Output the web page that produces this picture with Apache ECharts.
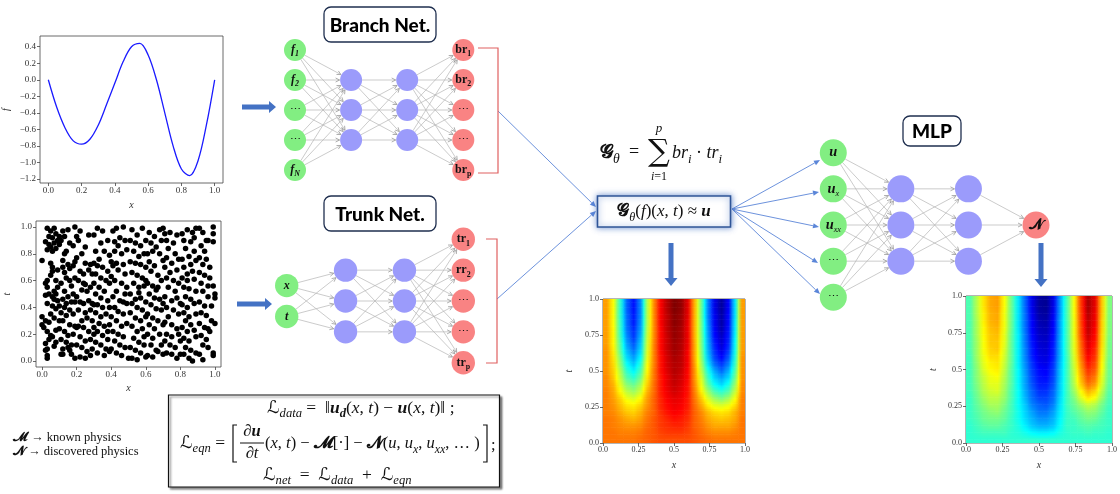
<!DOCTYPE html>
<html>
<head>
<meta charset="utf-8">
<script src="https://cdn.jsdelivr.net/npm/echarts@6/dist/echarts.min.js"></script>
<style>
html,body{margin:0;padding:0;background:#fff}
#c{width:1120px;height:494px}
</style>
</head>
<body>
<div id="c"></div>
<script>
// ---------- input function f(x) ----------
const fX = [0,0.05,0.1,0.15,0.2,0.25,0.3,0.35,0.4,0.45,0.5,0.55,0.6,0.65,0.7,0.75,0.8,0.85,0.9,0.95,1.0];
const fVal = [0,-0.33,-0.58,-0.74,-0.78,-0.72,-0.55,-0.30,-0.04,0.22,0.40,0.44,0.30,0.00,-0.40,-0.80,-1.08,-1.16,-0.98,-0.55,0];

// ---------- collocation points (x, t) ----------
const collocation = [
[0.03,0.99],[0.05,0.97],[0.07,0.99],[0.04,0.93],[0.06,0.92],[0.08,0.95],[0.02,0.89],[0.04,0.87],[0.05,0.85],[0.07,0.88],[0.09,0.9],[0.03,0.83],[0.06,0.82],[0.08,0.84],[0.1,0.87],[0.1,0.93],[0.0,0.75],
[0.06,0.67],[0.05,0.64],[0.03,0.6],[0.02,0.58],[0.03,0.55],[0.07,0.52],[0.08,0.5],[0.06,0.48],[0.07,0.46],[0.09,0.45],[0.03,0.43],[0.06,0.41],[0.08,0.39],[0.1,0.41],[0.0,0.33],[0.0,0.27],[0.02,0.3],[0.04,0.29],[0.01,0.25],[0.05,0.35],[0.07,0.32],[0.03,0.22],[0.05,0.19],[0.08,0.23],[0.1,0.24],[0.04,0.16],[0.02,0.13],[0.03,0.09],[0.06,0.18],[0.07,0.11],[0.03,0.04],[0.03,0.02],[0.08,0.14],[0.02,0.08],[0.09,0.68],[0.06,0.7],[0.08,0.6],[0.05,0.73],[0.09,0.55],[0.02,0.49],[0.04,0.5],[0.1,0.3],
[0.12,0.97],[0.15,0.98],[0.13,0.93],[0.11,0.9],[0.16,0.88],[0.19,1.0],[0.14,0.82],[0.12,0.75],[0.13,0.8],[0.18,0.86],[0.2,0.77],[0.19,0.74],[0.12,0.7],[0.15,0.72],[0.13,0.66],[0.16,0.69],[0.18,0.71],[0.14,0.62],[0.16,0.6],[0.19,0.62],[0.11,0.58],[0.17,0.56],[0.13,0.52],[0.18,0.5],[0.15,0.48],[0.12,0.46],[0.14,0.43],[0.17,0.44],[0.19,0.44],[0.13,0.4],[0.16,0.38],[0.11,0.36],[0.14,0.34],[0.18,0.35],[0.12,0.3],[0.16,0.27],[0.19,0.26],[0.2,0.25],[0.13,0.22],[0.15,0.19],[0.18,0.2],[0.11,0.16],[0.14,0.14],[0.17,0.12],[0.12,0.09],[0.15,0.1],[0.11,0.05],[0.12,0.05],[0.17,0.05],[0.19,0.02],[0.2,0.12],[0.16,0.08],[0.2,0.48],
[0.22,0.97],[0.2,0.93],[0.25,0.85],[0.27,0.94],[0.3,0.94],[0.21,0.9],[0.23,0.8],[0.25,0.73],[0.28,0.72],[0.3,0.73],[0.27,0.68],[0.22,0.67],[0.24,0.65],[0.29,0.65],[0.21,0.6],[0.25,0.57],[0.28,0.55],[0.23,0.53],[0.26,0.52],[0.3,0.58],[0.22,0.44],[0.24,0.43],[0.27,0.45],[0.29,0.43],[0.21,0.38],[0.25,0.36],[0.28,0.38],[0.23,0.3],[0.26,0.32],[0.29,0.3],[0.21,0.26],[0.24,0.25],[0.27,0.22],[0.3,0.25],[0.22,0.18],[0.25,0.15],[0.28,0.16],[0.23,0.1],[0.26,0.07],[0.28,0.04],[0.22,0.03],[0.25,0.02],[0.29,0.09],[0.3,0.2],[0.24,0.58],
[0.32,0.99],[0.35,0.97],[0.38,0.9],[0.34,0.88],[0.31,0.82],[0.36,0.82],[0.33,0.76],[0.39,0.79],[0.32,0.71],[0.35,0.7],[0.38,0.67],[0.31,0.65],[0.34,0.62],[0.37,0.6],[0.39,0.58],[0.33,0.55],[0.36,0.52],[0.31,0.5],[0.34,0.47],[0.38,0.45],[0.32,0.42],[0.35,0.4],[0.39,0.4],[0.31,0.36],[0.34,0.33],[0.37,0.35],[0.33,0.28],[0.36,0.26],[0.39,0.27],[0.32,0.22],[0.35,0.19],[0.38,0.16],[0.31,0.14],[0.34,0.12],[0.37,0.09],[0.32,0.06],[0.36,0.04],[0.39,0.07],[0.3,0.42],[0.38,0.22],
[0.41,0.97],[0.43,0.99],[0.47,1.0],[0.45,0.92],[0.42,0.89],[0.44,0.86],[0.48,0.9],[0.42,0.82],[0.46,0.8],[0.49,0.83],[0.4,0.74],[0.43,0.73],[0.41,0.71],[0.47,0.72],[0.44,0.68],[0.48,0.65],[0.4,0.63],[0.42,0.6],[0.46,0.58],[0.49,0.55],[0.43,0.52],[0.41,0.48],[0.45,0.45],[0.47,0.44],[0.49,0.43],[0.42,0.4],[0.44,0.37],[0.47,0.35],[0.4,0.33],[0.43,0.3],[0.46,0.26],[0.49,0.28],[0.41,0.22],[0.44,0.2],[0.47,0.18],[0.42,0.15],[0.45,0.12],[0.48,0.1],[0.43,0.06],[0.46,0.04],[0.5,0.02],[0.4,0.09],[0.48,0.5],
[0.52,0.98],[0.55,0.94],[0.58,0.99],[0.51,0.9],[0.54,0.88],[0.57,0.86],[0.6,0.9],[0.53,0.82],[0.56,0.78],[0.59,0.8],[0.51,0.74],[0.54,0.73],[0.57,0.72],[0.6,0.7],[0.52,0.66],[0.55,0.64],[0.58,0.62],[0.6,0.6],[0.53,0.58],[0.56,0.55],[0.59,0.56],[0.51,0.5],[0.54,0.46],[0.57,0.47],[0.6,0.44],[0.52,0.43],[0.55,0.4],[0.58,0.38],[0.51,0.36],[0.54,0.32],[0.57,0.3],[0.6,0.33],[0.52,0.26],[0.55,0.22],[0.58,0.24],[0.53,0.17],[0.56,0.14],[0.59,0.18],[0.51,0.1],[0.54,0.08],[0.57,0.06],[0.6,0.03],[0.52,0.02],[0.55,0.01],[0.59,0.12],[0.56,0.51],
[0.62,0.96],[0.65,0.93],[0.68,0.98],[0.7,0.99],[0.63,0.88],[0.66,0.85],[0.69,0.9],[0.61,0.8],[0.64,0.82],[0.68,0.8],[0.62,0.74],[0.65,0.71],[0.7,0.75],[0.63,0.67],[0.67,0.64],[0.69,0.6],[0.61,0.58],[0.64,0.56],[0.66,0.53],[0.62,0.5],[0.65,0.47],[0.68,0.46],[0.7,0.43],[0.63,0.42],[0.66,0.39],[0.69,0.38],[0.61,0.35],[0.64,0.32],[0.67,0.3],[0.62,0.27],[0.65,0.24],[0.7,0.27],[0.61,0.2],[0.64,0.17],[0.68,0.2],[0.63,0.12],[0.66,0.08],[0.69,0.12],[0.61,0.04],[0.64,0.03],[0.67,0.07],[0.7,0.05],[0.67,0.55],
[0.71,0.95],[0.72,0.9],[0.74,0.96],[0.76,0.88],[0.78,0.94],[0.73,0.84],[0.77,0.8],[0.72,0.77],[0.75,0.73],[0.79,0.76],[0.71,0.7],[0.74,0.66],[0.78,0.68],[0.72,0.62],[0.76,0.6],[0.79,0.58],[0.73,0.55],[0.77,0.52],[0.71,0.48],[0.75,0.45],[0.78,0.47],[0.72,0.4],[0.76,0.38],[0.79,0.35],[0.73,0.33],[0.71,0.29],[0.75,0.27],[0.78,0.24],[0.72,0.2],[0.75,0.18],[0.79,0.2],[0.71,0.15],[0.74,0.12],[0.77,0.1],[0.72,0.06],[0.75,0.05],[0.78,0.02],[0.8,0.05],[0.8,0.15],[0.8,0.43],
[0.81,0.95],[0.84,0.98],[0.87,0.96],[0.89,0.99],[0.82,0.9],[0.86,0.89],[0.88,0.92],[0.83,0.84],[0.85,0.78],[0.81,0.76],[0.88,0.82],[0.82,0.7],[0.86,0.72],[0.89,0.75],[0.84,0.65],[0.87,0.67],[0.81,0.62],[0.84,0.6],[0.88,0.61],[0.82,0.55],[0.85,0.54],[0.89,0.52],[0.83,0.48],[0.86,0.46],[0.81,0.42],[0.84,0.4],[0.88,0.43],[0.82,0.36],[0.85,0.33],[0.89,0.35],[0.83,0.3],[0.86,0.27],[0.81,0.25],[0.84,0.22],[0.88,0.23],[0.82,0.17],[0.85,0.15],[0.89,0.18],[0.83,0.1],[0.86,0.08],[0.82,0.05],[0.85,0.02],[0.87,0.0],[0.89,0.06],
[0.91,0.99],[0.93,0.96],[0.95,0.9],[0.96,0.9],[0.99,1.0],[0.99,0.95],[0.99,0.89],[0.92,0.86],[0.94,0.82],[0.91,0.77],[0.95,0.76],[0.93,0.72],[0.97,0.7],[0.91,0.66],[0.94,0.64],[0.97,0.62],[0.92,0.58],[0.96,0.56],[0.99,0.56],[0.93,0.52],[0.96,0.48],[1.0,0.5],[1.0,0.47],[0.91,0.44],[0.94,0.41],[0.98,0.41],[0.92,0.36],[0.95,0.34],[0.98,0.3],[1.0,0.28],[0.91,0.28],[0.94,0.25],[0.97,0.22],[0.92,0.19],[0.95,0.16],[0.93,0.12],[0.96,0.1],[0.99,0.06],[0.99,0.04],[0.91,0.05],[0.93,0.01],[0.96,0.24]
];

// ---------- fields on the (x, t) grid, one column per x, rows t = 0 .. 1 ----------
const gridX = ['0','.05','.1','.15','.2','.25','.3','.35','.4','.45','.5','.55','.6','.65','.7','.75','.8','.85','.9','.95','1'];
const gridT = gridX;
const uField = [
[76,76,76,76,75,75,75,75,74,74,73,73,73,73,72,72,72,72,72,72,72],
[76,76,75,75,74,73,72,71,70,68,67,66,65,64,63,63,63,62,62,62,62],
[76,75,74,73,71,69,67,63,60,57,55,52,50,47,46,44,43,43,42,42,42],
[76,75,73,71,68,65,61,56,51,46,42,38,34,31,28,26,24,23,23,22,22],
[76,75,73,70,67,64,59,53,48,42,37,32,28,24,21,18,17,15,15,14,14],
[77,76,74,72,70,67,63,58,54,49,45,41,37,34,32,30,28,27,26,26,26],
[78,78,77,76,75,73,72,70,67,65,63,62,60,59,58,57,56,55,55,55,55],
[79,79,79,79,78,78,78,77,77,76,76,75,75,75,75,74,74,74,74,74,74],
[80,81,82,82,83,84,84,85,85,85,86,86,86,87,87,87,87,88,88,88,88],
[80,82,83,84,86,87,88,89,90,90,91,92,92,93,93,93,94,94,94,95,95],
[80,82,84,86,88,89,90,92,93,94,95,95,96,97,97,98,98,99,99,100,100],
[80,82,84,85,87,88,89,90,91,92,93,94,94,95,95,96,96,97,97,98,98],
[80,81,82,83,84,85,85,86,86,87,87,88,88,88,89,89,89,89,90,90,90],
[79,79,78,78,78,77,76,75,74,73,73,72,71,71,71,70,70,70,70,70,70],
[78,77,76,75,74,71,68,64,61,59,56,54,52,51,50,50,49,49,48,48,48],
[77,75,73,71,69,64,59,53,47,43,40,35,32,30,29,28,27,26,25,25,25],
[76,74,71,69,66,60,53,45,38,33,29,23,19,17,15,13,12,11,11,10,10],
[76,74,71,68,65,59,50,42,34,29,23,18,13,10,8,7,5,4,4,3,3],
[76,74,71,69,66,61,54,46,40,34,30,25,21,18,16,15,14,13,13,12,12],
[76,75,73,71,70,66,62,57,53,49,46,43,41,39,38,37,36,36,35,35,35],
[76,76,76,76,75,75,75,74,74,73,73,73,73,72,72,72,72,72,72,72,72]
];
const nField = [
[42,42,42,43,43,43,43,44,44,44,44,44,44,45,45,45,45,45,45,45,45],
[42,43,44,45,46,47,48,49,50,51,51,52,53,53,53,54,54,54,55,55,55],
[42,44,46,48,49,51,53,55,56,57,59,60,61,62,62,63,63,64,64,65,65],
[42,44,47,49,51,54,56,58,60,61,63,64,66,67,68,68,69,70,70,71,71],
[42,44,47,49,52,54,56,59,60,62,64,65,66,68,68,69,70,71,71,72,72],
[42,44,45,47,48,50,52,53,54,55,56,57,58,59,60,60,61,61,61,62,62],
[42,42,43,43,44,44,45,45,46,46,46,47,47,47,47,47,48,48,48,48,48],
[42,41,40,39,39,38,38,38,37,37,37,36,36,36,36,36,35,35,35,35,35],
[42,39,36,34,33,32,30,29,28,28,27,26,25,25,24,24,23,23,23,22,22],
[42,37,32,30,28,25,23,22,20,19,18,17,15,15,14,13,12,12,11,10,10],
[42,36,30,27,24,22,19,17,15,14,13,11,10,9,8,7,6,5,4,3,3],
[42,36,30,27,24,21,19,17,15,13,12,10,9,8,7,6,5,4,3,2,2],
[42,37,32,30,28,25,23,22,20,19,18,17,15,15,14,13,12,12,11,10,10],
[42,40,38,37,36,35,34,33,33,32,32,31,30,30,30,29,29,29,28,28,28],
[42,42,43,43,43,44,44,44,44,44,44,44,44,45,45,45,45,45,45,45,45],
[42,43,43,44,46,48,50,53,55,56,57,58,59,60,60,61,61,61,62,62,62],
[42,43,45,47,49,53,59,63,68,70,72,74,76,77,78,80,80,81,81,82,82],
[42,44,46,49,52,57,65,71,77,80,83,86,88,90,91,93,94,94,95,96,96],
[42,43,45,48,51,55,62,67,73,76,79,81,83,84,86,87,88,89,89,90,90],
[42,43,44,45,47,49,53,56,59,60,62,63,64,65,66,66,67,67,68,68,68],
[42,42,43,43,43,44,45,46,47,48,48,48,49,49,49,50,50,50,50,50,50]
];

// ---------- tick labels ----------
const ticksF = [-1.2,-1.0,-0.8,-0.6,-0.4,-0.2,0.0,0.2,0.4];
const ticksUnit = [0,0.2,0.4,0.6,0.8,1.0];
const ticksQuarter = [0,0.25,0.5,0.75,1.0];
const quarterText = ['0.0','0.25','0.5','0.75','1.0'];

// ---------- network layouts ----------
const branchSizes = [5,3,3,5];
const branchTags = [['{i|f}{is|1}','{i|f}{is|2}','{d|⋯}','{d|⋯}','{i|f}{is|N}'], null, null,
                    ['{r|br}{rs|1}','{r|br}{rs|2}','{d|⋯}','{d|⋯}','{r|br}{rs|p}']];
const trunkSizes = [2,3,3,5];
const trunkTags = [['{i|x}','{i|t}'], null, null,
                   ['{r|tr}{rs|1}','{r|rr}{rs|2}','{d|⋯}','{d|⋯}','{r|tr}{rs|p}']];
const mlpSizes = [5,3,3,1];
const mlpTags = [['{u|u}','{u|u}{us|x}','{u|u}{us|xx}','{d|⋯}','{d|⋯}'], null, null, ['{n|𝓝}']];

const GREEN = '#82ee82', LAV = '#9b9bfb', SALMON = '#f98383';
const layerColors = [GREEN, LAV, LAV, SALMON];
const JET = ['#00007f','#0000ff','#007fff','#00ffff','#7fff7f','#ffff00','#ff7f00','#ff0000','#7f0000'];
const SERIF = '"Liberation Serif","DejaVu Serif",serif';
const SCRIPT = '"DejaVu Serif","DejaVu Sans","Noto Sans",serif';
const SANS = 'Lato,"Open Sans",sans-serif';
const ARROW_BLUE = '#4472c4';
const LINK_BLUE = '#5b86d8';

function signed(v){ return (v < 0 ? '\u2212' : '') + Math.abs(v).toFixed(1); }
function jet(v){ return echarts.color.lerp(Math.max(0, Math.min(1, v/100)), JET); }

function cells(cols){
  const out = [];
  cols.forEach((col, i) => col.forEach((v, j) => out.push([i, j, v])));
  return out;
}

// each sample is drawn as one grid cell; inside the cell the colour is shaded
// toward the neighbouring samples, the way an interpolated image display does
function fieldRender(cols){
  const nx = cols.length, ny = cols[0].length;
  const at = (i, j) => cols[Math.max(0, Math.min(nx-1, i))][Math.max(0, Math.min(ny-1, j))];
  const rowShade = (i, j, pos) => {
    const v = at(i, j), nb = pos < 0 ? at(i, j-1) : at(i, j+1);
    return v + (nb - v) * Math.abs(pos);
  };
  const strips = [-0.375, -0.125, 0.125, 0.375];
  return function(params, api){
    const i = api.value(0), j = api.value(1);
    const c = api.coord([i, j]);
    const sz = api.size([1, 1]);
    const x0 = c[0]-sz[0]/2, h = sz[1]/4;
    const children = strips.map(pos => {
      const m = rowShade(i, j, pos);
      const l = (rowShade(i-1, j, pos) + m) / 2;
      const r = (rowShade(i+1, j, pos) + m) / 2;
      const yc = c[1] - pos*sz[1];
      return {type: 'rect',
        shape: {x: x0, y: yc-h/2-0.3, width: sz[0]+0.6, height: h+0.6},
        style: {fill: new echarts.graphic.LinearGradient(0, 0, 1, 0, [
          {offset: 0, color: jet(l)}, {offset: 0.5, color: jet(m)}, {offset: 1, color: jet(r)}])}};
    });
    return {type: 'group', children: children};
  };
}

function valueAxis(grid, min, max, ticks, fmt, name, gap, size, isY){
  return {
    gridIndex: grid, type: 'value', min: min, max: max,
    axisLine: {show: false, onZero: false}, splitLine: {show: false},
    axisTick: {show: true, length: 3, customValues: ticks, lineStyle: {color: '#444', width: 0.8}},
    axisLabel: {customValues: ticks, formatter: fmt, margin: isY ? 4 : 3,
                fontFamily: SERIF, fontSize: size, color: '#333'},
    name: name, nameLocation: 'middle', nameGap: gap, nameRotate: isY ? 90 : 0,
    nameTextStyle: {fontFamily: SERIF, fontStyle: 'italic', fontSize: 10, color: '#333'}
  };
}
function hiddenAxis(grid, min, max, inverse){
  return {gridIndex: grid, type: 'value', min: min, max: max, inverse: !!inverse, show: false};
}
function catAxis(grid, data){
  return {gridIndex: grid, type: 'category', data: data, show: false};
}

// network edges: straight link ending in an open arrow head at the target circle
function edgeRender(radius){
  return function(params, api){
    const a = api.coord([api.value(0), api.value(1)]);
    const b = api.coord([api.value(2), api.value(3)]);
    const dx = b[0]-a[0], dy = b[1]-a[1], L = Math.hypot(dx, dy);
    const ux = dx/L, uy = dy/L;
    const s = [a[0]+ux*radius, a[1]+uy*radius];
    const e = [b[0]-ux*(radius+0.5), b[1]-uy*(radius+0.5)];
    const h = 4, w = 2;
    const bx = e[0]-ux*h, by = e[1]-uy*h;
    return {type: 'group', children: [
      {type: 'line', shape: {x1: s[0], y1: s[1], x2: e[0], y2: e[1]}, style: {stroke: '#b4b4b4', lineWidth: 0.7}},
      {type: 'polyline', shape: {points: [[bx-uy*w, by+ux*w], e, [bx+uy*w, by-ux*w]]},
       style: {stroke: '#999', lineWidth: 0.8, fill: null}}
    ]};
  };
}

function nodeRich(fs){
  const base = {fontFamily: SERIF, color: '#111', fontSize: fs, lineHeight: fs*1.4};
  const sub = {fontFamily: SERIF, color: '#111', fontSize: fs*0.66, verticalAlign: 'bottom', lineHeight: fs*0.7};
  return {
    i: Object.assign({}, base, {fontStyle: 'italic', fontWeight: 'bold'}),
    is: Object.assign({}, sub, {fontStyle: 'italic', fontWeight: 'bold'}),
    r: Object.assign({}, base, {fontWeight: 'bold'}),
    rs: Object.assign({}, sub, {fontWeight: 'bold'}),
    u: Object.assign({}, base, {fontStyle: 'italic', fontWeight: 'bold', fontSize: fs*1.15}),
    us: Object.assign({}, sub, {fontStyle: 'italic'}),
    d: Object.assign({}, base, {fontSize: fs*0.9}),
    n: Object.assign({}, base, {fontFamily: SCRIPT, fontWeight: 'bold', fontSize: fs*1.2})
  };
}

function netSeries(axis, sizes, tags, radius, fs){
  const nodes = [], edges = [];
  sizes.forEach((n, l) => {
    for (let i = 0; i < n; i++) {
      nodes.push({value: [l, i-(n-1)/2], tag: tags[l] ? tags[l][i] : '', itemStyle: {color: layerColors[l]}});
    }
  });
  for (let l = 0; l < sizes.length-1; l++)
    for (let a = 0; a < sizes[l]; a++)
      for (let b = 0; b < sizes[l+1]; b++)
        edges.push([l, a-(sizes[l]-1)/2, l+1, b-(sizes[l+1]-1)/2]);
  return [
    {type: 'custom', xAxisIndex: axis, yAxisIndex: axis, data: edges, renderItem: edgeRender(radius), silent: true, z: 2},
    {type: 'scatter', xAxisIndex: axis, yAxisIndex: axis, data: nodes, symbolSize: radius*2, z: 3, silent: true,
     itemStyle: {opacity: 1},
     label: {show: true, position: 'inside', formatter: p => p.data.tag, rich: nodeRich(fs)}}
  ];
}

// ---------- decorations ----------
function blockArrow(x1, y1, x2, y2, shaft, headW, headL){
  const dx = x2-x1, dy = y2-y1, L = Math.hypot(dx, dy), ux = dx/L, uy = dy/L, nx = -uy, ny = ux;
  const bx = x2-ux*headL, by = y2-uy*headL;
  return {type: 'polygon', z: 10, shape: {points: [
    [x1+nx*shaft/2, y1+ny*shaft/2], [bx+nx*shaft/2, by+ny*shaft/2], [bx+nx*headW/2, by+ny*headW/2],
    [x2, y2], [bx-nx*headW/2, by-ny*headW/2], [bx-nx*shaft/2, by-ny*shaft/2], [x1-nx*shaft/2, y1-ny*shaft/2]]},
    style: {fill: ARROW_BLUE}};
}
function thinArrow(x1, y1, x2, y2){
  const dx = x2-x1, dy = y2-y1, L = Math.hypot(dx, dy), ux = dx/L, uy = dy/L;
  const h = 6, w = 2.6, bx = x2-ux*h, by = y2-uy*h;
  return {type: 'group', z: 10, children: [
    {type: 'line', shape: {x1: x1, y1: y1, x2: bx, y2: by}, style: {stroke: LINK_BLUE, lineWidth: 0.9}},
    {type: 'polygon', shape: {points: [[bx-uy*w, by+ux*w], [x2, y2], [bx+uy*w, by-ux*w]]}, style: {fill: LINK_BLUE}}
  ]};
}
function mathRich(s){
  const base = {fontFamily: SERIF, fontSize: s, fill: '#111', lineHeight: s*1.4};
  const sub = {fontFamily: SERIF, fontSize: s*0.72, fill: '#111', fontStyle: 'italic', verticalAlign: 'bottom', lineHeight: s*0.75};
  return {
    t: base,
    it: Object.assign({}, base, {fontStyle: 'italic'}),
    bi: Object.assign({}, base, {fontStyle: 'italic', fontWeight: 'bold'}),
    sc: Object.assign({}, base, {fontFamily: SCRIPT}),
    sb: Object.assign({}, base, {fontFamily: SCRIPT, fontWeight: 'bold'}),
    big: Object.assign({}, base, {fontFamily: SCRIPT, fontSize: s*1.8, lineHeight: s*2}),
    sub: sub,
    bsub: Object.assign({}, sub, {fontWeight: 'bold'}),
    rsub: Object.assign({}, sub, {fontStyle: 'normal'})
  };
}
function mtext(x, y, text, align, size){
  return {type: 'text', x: x, y: y, z: 20,
          style: {text: text, align: align, verticalAlign: 'middle', rich: mathRich(size)}};
}
function titleBox(x, y, w, h, label){
  return {type: 'group', z: 15, children: [
    {type: 'rect', shape: {x: x, y: y, width: w, height: h, r: 7}, style: {fill: '#fff', stroke: '#1f2f4f', lineWidth: 1.3}},
    {type: 'text', x: x+w/2, y: y+h/2+1, style: {text: label, align: 'center', verticalAlign: 'middle',
      fontFamily: SANS, fontWeight: 900, fontSize: 19, fill: '#000'}}
  ]};
}

const graphics = [
  titleBox(324, 7, 112, 35, 'Branch Net.'),
  titleBox(324, 196, 112, 35, 'Trunk Net.'),
  titleBox(903, 116, 58, 30, 'MLP'),
  blockArrow(242, 107, 276, 107, 5, 12, 7),
  blockArrow(237, 304, 272, 304, 5, 12, 7),
  blockArrow(671, 243, 671, 286, 5, 13, 8),
  blockArrow(1041, 243, 1041, 287, 5, 13, 8),
  {type: 'polyline', z: 10, shape: {points: [[478, 48], [498, 48], [498, 173], [478, 173]]}, style: {stroke: '#e06060', lineWidth: 1.2, fill: null}},
  {type: 'polyline', z: 10, shape: {points: [[486, 239], [497, 239], [497, 363], [486, 363]]}, style: {stroke: '#e06060', lineWidth: 1.2, fill: null}},
  thinArrow(498, 111, 596, 207),
  thinArrow(497, 299, 596, 211),
  thinArrow(732, 209, 820, 160),
  thinArrow(732, 209, 819, 192),
  thinArrow(732, 209, 819, 227),
  thinArrow(732, 209, 818, 263),
  thinArrow(732, 209, 820, 294),
  // operator box
  {type: 'rect', z: 12, shape: {x: 597.5, y: 196, width: 133, height: 31},
   style: {fill: '#fff', stroke: '#2f5597', lineWidth: 1.6, shadowBlur: 6, shadowColor: 'rgba(68,114,196,0.75)'}},
  mtext(664, 212, '{sb|𝓖}{sub|θ}{t|(}{it|f}{t|)(}{it|x}{t|, }{it|t}{t|) ≈ }{bi|u}', 'center', 17),
  // operator definition
  mtext(600, 153, '{sb|𝓖}{sub|θ}', 'left', 19),
  mtext(629, 152, '{t|=}', 'left', 18),
  mtext(659, 153, '{big|∑}', 'center', 17),
  mtext(659, 129, '{it|p}', 'center', 13),
  mtext(659, 177, '{it|i}{t|=1}', 'center', 12),
  mtext(672, 153, '{it|br}{sub|i}{t| · }{it|tr}{sub|i}', 'left', 18),
  // physics legend
  mtext(13, 438, '{sb|𝓜}{t| → known physics}', 'left', 12.5),
  mtext(13, 452, '{sb|𝓝}{t| → discovered physics}', 'left', 12.5),
  // loss box
  {type: 'rect', z: 12, shape: {x: 168.5, y: 395, width: 331, height: 92},
   style: {fill: '#fff', stroke: '#111', lineWidth: 1.2, shadowBlur: 2, shadowOffsetX: 2, shadowOffsetY: 2, shadowColor: 'rgba(0,0,0,0.45)'}},
  mtext(267, 408, '{sc|ℒ}{sub|data}{t| =  ‖}{bi|u}{bsub|d}{t|(}{it|x}{t|, }{it|t}{t|) − }{bi|u}{t|(}{it|x}{t|, }{it|t}{t|)‖ ;}', 'left', 17.5),
  mtext(180, 443, '{sc|ℒ}{sub|eqn}{t| =}', 'left', 17.5),
  {type: 'polyline', z: 20, shape: {points: [[237, 425], [233, 425], [233, 462], [237, 462]]}, style: {stroke: '#111', lineWidth: 1.2, fill: null}},
  {type: 'polyline', z: 20, shape: {points: [[483, 425], [487, 425], [487, 462], [483, 462]]}, style: {stroke: '#111', lineWidth: 1.2, fill: null}},
  mtext(252, 432, '{t|∂}{bi|u}', 'center', 16.5),
  {type: 'line', z: 20, shape: {x1: 240, y1: 443, x2: 264, y2: 443}, style: {stroke: '#111', lineWidth: 1}},
  mtext(252, 454, '{t|∂}{it|t}', 'center', 16.5),
  mtext(265, 444, '{t|(}{it|x}{t|, }{it|t}{t|) − }{sb|𝓜}{t|[·] − }{sb|𝓝}{t|(}{it|u}{t|, }{it|u}{sub|x}{t|, }{it|u}{sub|xx}{t|, … )}', 'left', 16.5),
  mtext(491, 446, '{t|;}', 'left', 16.5),
  mtext(263, 475, '{sc|ℒ}{sub|net}{t|  =  }{sc|ℒ}{sub|data}{t|  +  }{sc|ℒ}{sub|eqn}', 'left', 17.5)
];

const gridFrame = {show: true, borderColor: '#444', borderWidth: 0.8, backgroundColor: 'transparent'};

const option = {
  animation: false,
  backgroundColor: '#fff',
  grid: [
    Object.assign({left: 40, top: 36, width: 183, height: 147}, gridFrame),
    Object.assign({left: 36, top: 221, width: 185, height: 146}, gridFrame),
    Object.assign({left: 603, top: 299, width: 142, height: 144}, gridFrame),
    Object.assign({left: 966, top: 296, width: 147, height: 147}, gridFrame),
    {left: 295, top: 50, width: 168.3, height: 120},
    {left: 286.7, top: 239.3, width: 176.6, height: 123.4},
    {left: 833.3, top: 152.7, width: 202.7, height: 144.6}
  ],
  xAxis: [
    valueAxis(0, -0.05, 1.05, ticksUnit, v => v.toFixed(1), 'x', 17, 9, false),
    valueAxis(1, -0.035, 1.035, ticksUnit, v => v.toFixed(1), 'x', 16, 9, false),
    valueAxis(2, 0, 1, ticksQuarter, v => quarterText[ticksQuarter.indexOf(v)], 'x', 17, 8, false),
    catAxis(2, gridX),
    valueAxis(3, 0, 1, ticksQuarter, v => quarterText[ticksQuarter.indexOf(v)], 'x', 17, 8, false),
    catAxis(3, gridX),
    hiddenAxis(4, 0, 3),
    hiddenAxis(5, 0, 3),
    hiddenAxis(6, 0, 3)
  ],
  yAxis: [
    valueAxis(0, -1.25, 0.53, ticksF, signed, 'f', 29, 9, true),
    valueAxis(1, -0.045, 1.045, ticksUnit, v => v.toFixed(1), 't', 24, 9, true),
    valueAxis(2, 0, 1, ticksQuarter, v => quarterText[ticksQuarter.indexOf(v)], 't', 29, 8, true),
    catAxis(2, gridT),
    valueAxis(3, 0, 1, ticksQuarter, v => quarterText[ticksQuarter.indexOf(v)], 't', 28, 8, true),
    catAxis(3, gridT),
    hiddenAxis(4, -2, 2, true),
    hiddenAxis(5, -2, 2, true),
    hiddenAxis(6, -2, 2, true)
  ],
  series: [
    {type: 'line', xAxisIndex: 0, yAxisIndex: 0, data: fX.map((x, i) => [x, fVal[i]]), smooth: 0.35,
     showSymbol: false, lineStyle: {color: '#1a1aff', width: 1.3}, silent: true},
    {type: 'scatter', xAxisIndex: 1, yAxisIndex: 1, data: collocation, symbolSize: 5.5,
     itemStyle: {color: '#000', opacity: 1}, silent: true},
    {type: 'custom', xAxisIndex: 3, yAxisIndex: 3, data: cells(uField), renderItem: fieldRender(uField), clip: true, silent: true, z: 1},
    {type: 'custom', xAxisIndex: 5, yAxisIndex: 5, data: cells(nField), renderItem: fieldRender(nField), clip: true, silent: true, z: 1}
  ].concat(
    netSeries(6, branchSizes, branchTags, 11, 12),
    netSeries(7, trunkSizes, trunkTags, 11.7, 12),
    netSeries(8, mlpSizes, mlpTags, 13.5, 12.5)
  ),
  graphic: {elements: graphics}
};

const chart = echarts.init(document.getElementById('c'), null, {renderer: 'canvas'});
chart.setOption(option);
</script>
</body>
</html>
